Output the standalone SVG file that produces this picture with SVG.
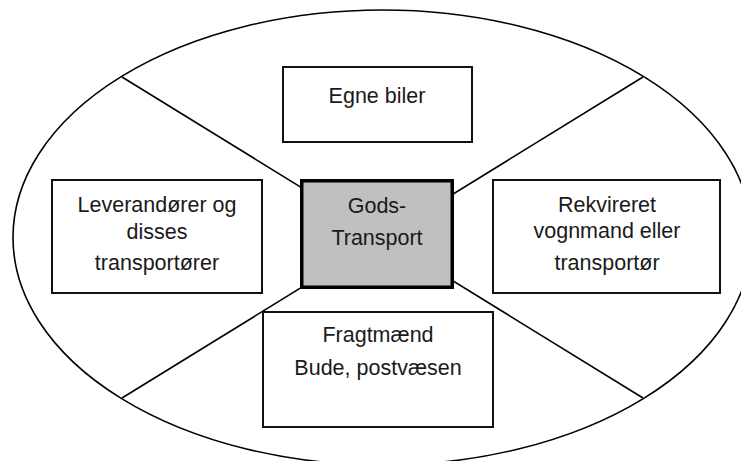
<svg xmlns="http://www.w3.org/2000/svg" width="741" height="461" viewBox="0 0 741 461">
<style>
.box{fill:#fff;stroke:#111;stroke-width:2}
.center{fill:#c0c0c0;stroke:#000;stroke-width:3.5}
.line{stroke:#000;stroke-width:1.6;fill:none}
text{font-family:"Liberation Sans",Arial,sans-serif;font-size:21.5px;fill:#1a1a1a;text-anchor:middle}
</style>
<rect width="741" height="461" fill="#fff"/>
<g id="connectors">
<ellipse class="line" cx="382.5" cy="237.5" rx="369.5" ry="227.5"/>
<line class="line" x1="122" y1="77" x2="643" y2="398"/>
<line class="line" x1="643" y1="77" x2="122" y2="398"/>
</g>
<g id="egne">
<rect class="box" x="283" y="67" width="189" height="75"/>
<text x="377" y="103">Egne biler</text>
</g>
<g id="leverandorer">
<rect class="box" x="52" y="180" width="210" height="113"/>
<text x="157" y="212">Leverandører og</text>
<text x="157" y="239">disses</text>
<text x="157" y="270">transportører</text>
</g>
<g id="rekvireret">
<rect class="box" x="493" y="180" width="227" height="113"/>
<text x="607" y="212">Rekvireret</text>
<text x="607" y="238">vognmand eller</text>
<text x="607" y="270">transportør</text>
</g>
<g id="fragtmaend">
<rect class="box" x="263" y="312" width="230" height="115"/>
<text x="378" y="342">Fragtmænd</text>
<text x="378" y="375">Bude, postvæsen</text>
</g>
<g id="gods">
<rect class="center" x="301.75" y="180.75" width="150.5" height="106.5"/>
<text x="377" y="213">Gods-</text>
<text x="377" y="245">Transport</text>
</g>
</svg>
